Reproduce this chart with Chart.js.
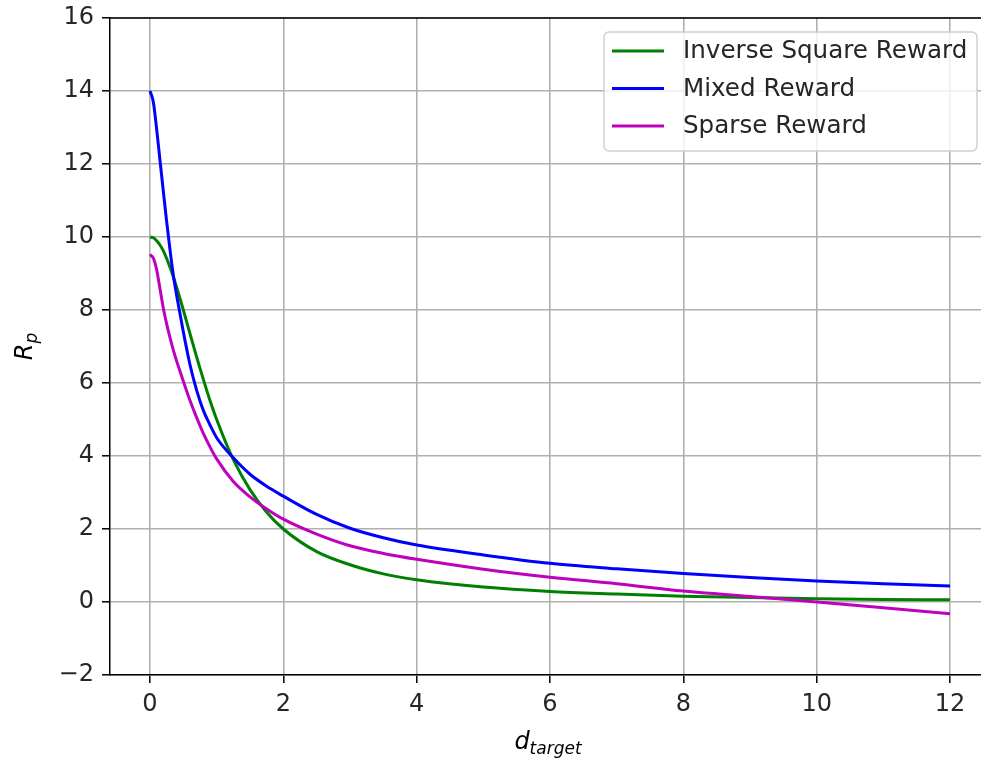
<!DOCTYPE html>
<html>
<head>
<meta charset="utf-8">
<script src="https://cdn.jsdelivr.net/npm/chart.js@4"></script>
<style>
  html, body { margin: 0; padding: 0; background: #fff; overflow: hidden; }
</style>
</head>
<body>
<canvas id="rewardChart" width="981" height="762"></canvas>
<script>
// distance samples (d_target)
const distances = [0, 0.05, 0.1, 0.15, 0.2, 0.25, 0.3, 0.35, 0.4, 0.45, 0.5, 0.6, 0.7, 0.8, 0.9, 1.0,
  1.25, 1.5, 1.75, 2.0, 2.5, 3, 3.5, 4, 5, 6, 7, 8, 9, 10, 11, 12];

const inverseSquare = [10, 9.98, 9.9, 9.78, 9.62, 9.41, 9.17, 8.91, 8.62, 8.32, 8.0, 7.35, 6.71, 6.1, 5.52, 5.0,
  3.9, 3.08, 2.46, 2.0, 1.38, 1.02, 0.77, 0.61, 0.41, 0.29, 0.22, 0.16, 0.12, 0.09, 0.07, 0.06];

const mixed = [14.0, 13.7, 12.95, 12.1, 11.25, 10.42, 9.65, 8.95, 8.4, 7.9, 7.4, 6.5, 5.8, 5.25, 4.85, 4.5,
  3.95, 3.5, 3.17, 2.9, 2.4, 2.02, 1.76, 1.56, 1.29, 1.06, 0.91, 0.78, 0.67, 0.575, 0.5, 0.44];

const sparse = [9.52, 9.42, 9.1, 8.58, 8.05, 7.62, 7.24, 6.9, 6.6, 6.32, 6.05, 5.52, 5.05, 4.62, 4.25, 3.92,
  3.3, 2.88, 2.55, 2.27, 1.86, 1.54, 1.33, 1.17, 0.9, 0.68, 0.5, 0.3, 0.15, 0.0, -0.155, -0.32];

const seriesLabels = ["Inverse Square Reward", "Mixed Reward", "Sparse Reward"];
const seriesColors = ["#008000", "#0000ff", "#bf00bf"];

const xTicks = [0, 2, 4, 6, 8, 10, 12];
const yTicks = [-2, 0, 2, 4, 6, 8, 10, 12, 14, 16];

const FONT = "'DejaVu Sans', sans-serif";

function toPoints(values) {
  return distances.map((d, i) => ({ x: d, y: values[i] }));
}

function fmtTick(v) {
  return v < 0 ? "\u2212" + Math.abs(v) : String(v);
}

// top spine, axis titles with subscripts, legend box
const decorations = {
  id: "decorations",
  afterDraw(chart) {
    const ctx = chart.ctx;
    const area = chart.chartArea;
    ctx.save();

    ctx.strokeStyle = "#000";
    ctx.lineWidth = 1.5;
    ctx.beginPath();
    ctx.moveTo(area.left, area.top);
    ctx.lineTo(area.right, area.top);
    ctx.stroke();

    // x title: d_target
    ctx.fillStyle = "#000";
    ctx.textBaseline = "alphabetic";
    ctx.font = "oblique 24px " + FONT;
    const wMain = ctx.measureText("d").width;
    ctx.font = "oblique 17px " + FONT;
    const wSub = ctx.measureText("target").width;
    const x0 = 548 - (wMain + wSub) / 2;
    ctx.font = "oblique 24px " + FONT;
    ctx.fillText("d", x0, 749);
    ctx.font = "oblique 17px " + FONT;
    ctx.fillText("target", x0 + wMain, 754);

    // y title: R_p
    ctx.save();
    ctx.translate(32, (area.top + area.bottom) / 2);
    ctx.rotate(-Math.PI / 2);
    ctx.font = "oblique 24px " + FONT;
    const wR = ctx.measureText("R").width;
    ctx.font = "oblique 17px " + FONT;
    const wP = ctx.measureText("p").width;
    const y0 = -(wR + wP) / 2;
    ctx.font = "oblique 24px " + FONT;
    ctx.fillText("R", y0, 0);
    ctx.font = "oblique 17px " + FONT;
    ctx.fillText("p", y0 + wR, 5);
    ctx.restore();

    // legend
    const bx = 604, by = 32, bw = 373, bh = 119, r = 5;
    ctx.beginPath();
    ctx.moveTo(bx + r, by);
    ctx.lineTo(bx + bw - r, by);
    ctx.arcTo(bx + bw, by, bx + bw, by + r, r);
    ctx.lineTo(bx + bw, by + bh - r);
    ctx.arcTo(bx + bw, by + bh, bx + bw - r, by + bh, r);
    ctx.lineTo(bx + r, by + bh);
    ctx.arcTo(bx, by + bh, bx, by + bh - r, r);
    ctx.lineTo(bx, by + r);
    ctx.arcTo(bx, by, bx + r, by, r);
    ctx.closePath();
    ctx.fillStyle = "rgba(255,255,255,0.8)";
    ctx.fill();
    ctx.strokeStyle = "#d0d0d0";
    ctx.lineWidth = 1.5;
    ctx.stroke();

    ctx.font = "24.6px " + FONT;
    ctx.textBaseline = "middle";
    chart.data.datasets.forEach((ds, i) => {
      const ry = 51 + i * 37.5;
      ctx.strokeStyle = ds.borderColor;
      ctx.lineWidth = 3;
      ctx.beginPath();
      ctx.moveTo(612, ry);
      ctx.lineTo(664, ry);
      ctx.stroke();
      ctx.fillStyle = "#262626";
      ctx.fillText(ds.label, 683, ry + 1);
    });

    ctx.restore();
  },
};

new Chart(document.getElementById("rewardChart"), {
  type: "line",
  data: {
    datasets: [
      { label: seriesLabels[0], data: toPoints(inverseSquare), borderColor: seriesColors[0], order: 2 },
      { label: seriesLabels[1], data: toPoints(mixed), borderColor: seriesColors[1], order: 1 },
      { label: seriesLabels[2], data: toPoints(sparse), borderColor: seriesColors[2], order: 0 },
    ],
  },
  options: {
    responsive: false,
    animation: false,
    layout: { padding: { top: 18, right: 0, left: 0, bottom: 0 } },
    elements: {
      point: { radius: 0 },
      line: { borderWidth: 3, cubicInterpolationMode: "monotone", fill: false },
    },
    plugins: {
      legend: { display: false },
      tooltip: { enabled: false },
    },
    scales: {
      x: {
        type: "linear",
        min: -0.6,
        max: 12.465,
        afterBuildTicks: (axis) => { axis.ticks = xTicks.map((v) => ({ value: v })); },
        afterFit: (axis) => { axis.height = 87; axis.paddingLeft = 0; axis.paddingRight = 0; },
        ticks: {
          color: "#262626",
          padding: 7,
          maxRotation: 0,
          font: { family: FONT, size: 24 },
          callback: fmtTick,
        },
        grid: { color: "#b0b0b0", lineWidth: 1.6, tickLength: 8, tickColor: "#000", tickWidth: 1.5 },
        border: { color: "#000", width: 1.5 },
      },
      y: {
        min: -2,
        max: 16,
        afterBuildTicks: (axis) => { axis.ticks = yTicks.map((v) => ({ value: v })); },
        afterFit: (axis) => { axis.width = 110; axis.paddingTop = 0; axis.paddingBottom = 0; },
        ticks: {
          color: "#262626",
          padding: 8,
          font: { family: FONT, size: 24 },
          callback: fmtTick,
        },
        grid: { color: "#b0b0b0", lineWidth: 1.6, tickLength: 8, tickColor: "#000", tickWidth: 1.5 },
        border: { color: "#000", width: 1.5 },
      },
    },
  },
  plugins: [decorations],
});
</script>
</body>
</html>
